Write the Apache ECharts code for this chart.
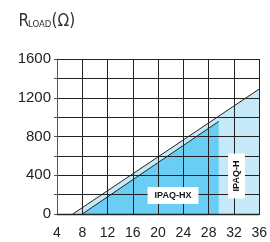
<!DOCTYPE html>
<html>
<head>
<meta charset="utf-8">
<script src="https://cdn.jsdelivr.net/npm/echarts@6/dist/echarts.min.js"></script>
<style>
  html, body { margin: 0; padding: 0; background: #fff; }
  #chart { width: 270px; height: 242px; }
</style>
</head>
<body>
<div id="chart"></div>
<script>
// supply voltage (V) vs max load resistance (ohm)
const hLine = [[6.5, 0], [36, 1290]];
const hxLine = [[8, 0], [29.6, 956]];
const xTicks = [4, 8, 12, 16, 20, 24, 28, 32, 36];
const yLabels = [0, 400, 800, 1200, 1600];

const chart = echarts.init(document.getElementById("chart"));
const font = "Liberation Sans, Arial, sans-serif";
const narrow = "Liberation Sans Narrow, DejaVu Sans Condensed, Liberation Sans, sans-serif";

// small helper for the unit title pieces
function titlePart(text, x, y, size) {
  return {
    type: "text",
    x: x,
    y: y,
    style: { text: text, fontSize: size, fontFamily: narrow, fill: "#333", verticalAlign: "bottom" },
  };
}

chart.setOption({
  animation: false,
  grid: { left: 57, top: 59, right: 10, bottom: 28 },
  xAxis: {
    type: "value",
    min: xTicks[0],
    max: xTicks[xTicks.length - 1],
    interval: 4,
    z: 5,
    axisLine: { lineStyle: { color: "#222", width: 1.3 } },
    axisTick: { show: false },
    axisLabel: { color: "#222", fontSize: 14, fontFamily: font, margin: 12 },
    splitLine: { lineStyle: { color: "#222", width: 1 } },
  },
  yAxis: {
    type: "value",
    min: 0,
    max: 1600,
    interval: 200,
    z: 5,
    axisLine: { show: true, lineStyle: { color: "#555", width: 1 } },
    axisTick: { show: true, length: 3, lineStyle: { color: "#555" } },
    axisLabel: {
      color: "#222",
      fontSize: 15,
      fontFamily: font,
      margin: 6,
      formatter: (v) => (yLabels.includes(v) ? String(v) : ""),
    },
    splitLine: { lineStyle: { color: "#222", width: 1 } },
  },
  series: [
    {
      name: "IPAQ-H",
      type: "line",
      data: hLine,
      symbol: "none",
      z: 1,
      lineStyle: { color: "#222", width: 1 },
      areaStyle: { color: "#c6e9f8", opacity: 1 },
    },
    {
      name: "IPAQ-HX",
      type: "line",
      data: hxLine,
      symbol: "none",
      z: 2,
      lineStyle: { color: "#222", width: 1 },
      areaStyle: { color: "#6acdf4", opacity: 1 },
    },
  ],
  graphic: [
    titlePart("R", 18.5, 30.5, 17),
    titlePart("LOAD", 28, 30, 9.5),
    titlePart("(Ω)", 51.5, 30.5, 17),
    {
      type: "text",
      x: 173,
      y: 195.5,
      z: 100,
      style: {
        text: "IPAQ-HX",
        fontSize: 9,
        fontWeight: "bold",
        fontFamily: font,
        fill: "#111",
        align: "center",
        verticalAlign: "middle",
        backgroundColor: "#fff",
        padding: [4, 7, 4, 7],
      },
    },
    {
      type: "text",
      x: 236.5,
      y: 176,
      rotation: Math.PI / 2,
      z: 100,
      style: {
        text: "IPAQ-H",
        fontSize: 9,
        fontWeight: "bold",
        fontFamily: font,
        fill: "#111",
        align: "center",
        verticalAlign: "middle",
        backgroundColor: "#fff",
        padding: [4, 7, 4, 7],
      },
    },
  ],
});
</script>
</body>
</html>
